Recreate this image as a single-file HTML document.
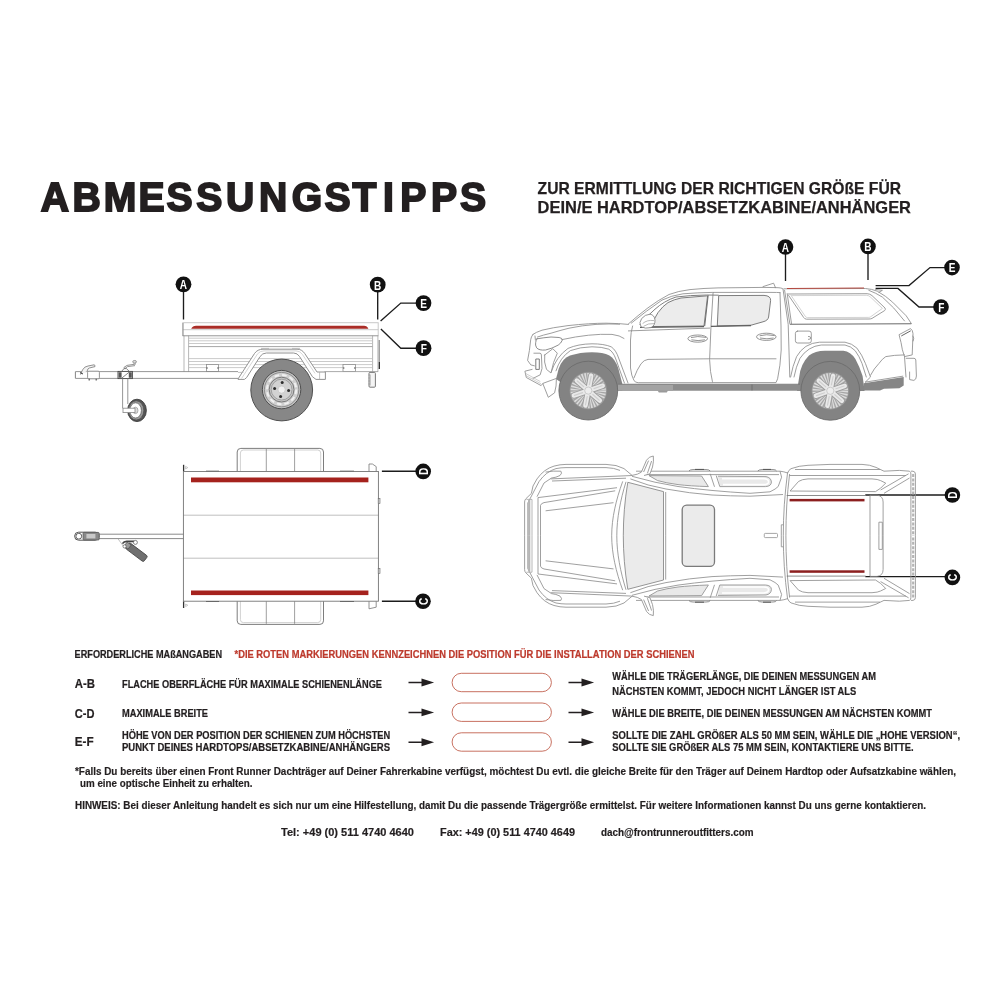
<!DOCTYPE html>
<html lang="de">
<head>
<meta charset="utf-8">
<title>Abmessungstipps</title>
<style>
html,body{margin:0;padding:0;background:#fff;}
body{width:1000px;height:1000px;overflow:hidden;position:relative;}
svg{position:absolute;left:0;top:0;display:block;will-change:transform;}
text{font-family:"Liberation Sans",sans-serif;font-weight:bold;fill:#231f20;}
.hl{font-size:41px;stroke:#231f20;stroke-width:1.9px;stroke-linejoin:miter;}
.sub{font-size:16.7px;stroke:#231f20;stroke-width:0.25px;}
.cap{font-size:10.6px;stroke:#231f20;stroke-width:.22px;}
.lbl{font-size:12.4px;stroke:#231f20;stroke-width:.2px;}
.red{fill:#bd3a2d;stroke:#bd3a2d;}
.fn{font-size:10.6px;stroke:#231f20;stroke-width:.18px;}
.ln{fill:none;stroke:#6b6b6b;stroke-width:0.9;stroke-linecap:round;stroke-linejoin:round;}
.lt{fill:none;stroke:#9a9a9a;stroke-width:0.7;stroke-linecap:round;stroke-linejoin:round;}
.dk{fill:none;stroke:#3a3a3a;stroke-width:1;stroke-linecap:round;stroke-linejoin:round;}
.ld{fill:none;stroke:#1c1c1c;stroke-width:1.35;}
.pill{fill:#fff;stroke:#c2614f;stroke-width:0.9;}
.dot{fill:#111;}
.dl{font-size:13.6px;fill:#fff;text-anchor:middle;}
</style>
</head>
<body>
<svg width="1000" height="1000" viewBox="0 0 1000 1000">
<rect x="0" y="0" width="1000" height="1000" fill="#ffffff"/>

<!-- ===== HEADLINE ===== -->
<g id="head">
<text class="hl" transform="translate(0 211.2) scale(0.955 1)" x="42.8 75.9 108.6 145.0 174.4 205.6 236.7 271.1 305.4 339.9 369.1 401.0 419.2 451.2 481.8" y="0">ABMESSUNGSTIPPS</text>
<text class="sub" x="537.6" y="193.6" textLength="363.4" lengthAdjust="spacingAndGlyphs">ZUR ERMITTLUNG DER RICHTIGEN GRÖßE FÜR</text>
<text class="sub" x="537.6" y="212.6" textLength="373.4" lengthAdjust="spacingAndGlyphs">DEIN/E HARDTOP/ABSETZKABINE/ANHÄNGER</text>
</g>

<g id="trailer-side">
<!-- leaders -->
<path class="ld" d="M183.5 290V319.5M377.7 290V319.5M423 303.1H400.8L380.6 320.9M423 348.2H400.8L380.9 328.9"/>
<circle class="dot" cx="183.5" cy="284.3" r="7.9"/><text class="dl" transform="translate(183.5 289.1) scale(.74 1)">A</text>
<circle class="dot" cx="377.7" cy="284.7" r="7.9"/><text class="dl" transform="translate(377.7 289.5) scale(.74 1)">B</text>
<circle class="dot" cx="423.5" cy="303.1" r="7.9"/><text class="dl" transform="translate(423.7 307.9) scale(.74 1)">E</text>
<circle class="dot" cx="423.5" cy="348.2" r="7.9"/><text class="dl" transform="translate(423.9 353.0) scale(.74 1)">F</text>
<!-- top rail -->
<rect x="182.8" y="322.7" width="195.4" height="13" fill="#fff" stroke="#c9c9c9" stroke-width="1"/>
<path d="M182.8 335.8H378.2" stroke="#a8a8a8" stroke-width="1.1" fill="none"/>
<path d="M182.8 329.7H378.2" stroke="#bdbdbd" stroke-width="0.8" fill="none"/>
<path d="M191.2 328.7 Q192.6 325.8 196 325.8 H364 Q367.2 325.8 368.4 328.7 Z" fill="#aa2d27"/>
<path d="M183 323V336" stroke="#8a8a8a" stroke-width="0.9" fill="none"/>
<!-- body -->
<path class="lt" d="M184 336V371.6M188.6 336V371.6M372.6 336V371.6M377.9 336V371.6"/>
<path d="M188.6 338.2H372.6M188.6 340.8H372.6M188.6 343.5H372.6M188.6 358.6H372.6M188.6 361.5H372.6M188.6 364.6H372.6M188.6 367.6H372.6" stroke="#bcbcbc" stroke-width="0.8" fill="none"/>
<path d="M188.6 346.6H372.6" stroke="#a6a6a6" stroke-width="1" fill="none"/>
<path d="M379.2 340V369" stroke="#666" stroke-width="0.9" fill="none"/>
<path d="M379.4 362V369" stroke="#333" stroke-width="1.2" fill="none"/>
<!-- reflector boxes -->
<rect x="206.4" y="364.4" width="12.2" height="7.2" fill="#fff" stroke="#8c8c8c" stroke-width="0.8"/>
<path d="M206.4 368h1.4M218.6 368h-1.4" stroke="#444" stroke-width="1"/>
<rect x="343" y="364.4" width="12.4" height="7.2" fill="#fff" stroke="#8c8c8c" stroke-width="0.8"/>
<path d="M343 368h1.4M355.4 368h-1.4" stroke="#444" stroke-width="1"/>
<!-- body bottom & drawbar -->
<path d="M324.5 371.6H378" stroke="#a0a0a0" stroke-width="0.9" fill="none"/>
<path d="M75.5 371.6H238M75.5 378.4H238" stroke="#8a8a8a" stroke-width="0.9" fill="none"/>
<!-- tail light -->
<rect x="369" y="372.4" width="6.4" height="14.8" rx="1" fill="#f4f4f4" stroke="#6a6a6a" stroke-width="0.9"/>
<path d="M370.2 374.5v11" stroke="#999" stroke-width="0.7"/>
<path d="M368.6 375h1M368.6 378h1M368.6 381h1M368.6 384h1" stroke="#777" stroke-width="0.6"/>
<!-- fender -->
<path d="M238 379 L254.5 353.5 Q257.5 349.2 263 349.2 H297 Q302 349.2 304.8 353.6 L317 372 H325.4 V379.4 H316 L312.5 376.8 L299.6 356.6 Q297.4 353 293.6 353 H266.4 Q262.4 353 260 356.6 L246.6 377.6 L244.4 379.4 H238 Z" fill="#fff" stroke="#929292" stroke-width="1" stroke-linejoin="round"/>
<path d="M241.6 378.4 L257.6 353.8 Q260 350.9 264 350.9 H296 Q300 350.9 302.4 354.4 L315 373.4" fill="none" stroke="#c4c4c4" stroke-width="0.7"/>
<path d="M261 348.4h8M292 348.4h8" stroke="#aaa" stroke-width="0.7"/>
<path d="M238 372.4h5.4M319.6 379.4v-7.4" stroke="#aaa" stroke-width="0.7" fill="none"/>
<!-- wheel -->
<circle cx="281.7" cy="390" r="30.9" fill="#878787" stroke="#505050" stroke-width="1"/>
<circle cx="281.6" cy="389.6" r="19.2" fill="#c2c2c2" stroke="#4f4f4f" stroke-width="1"/>
<circle cx="281.6" cy="389.6" r="17.2" fill="#cfcfcf" stroke="#7d7d7d" stroke-width="0.8"/>
<circle cx="281.6" cy="389.6" r="14.6" fill="none" stroke="#f0f0f0" stroke-width="2" stroke-dasharray="4.6 3.05"/>
<circle cx="281.6" cy="389.6" r="12.4" fill="#c6c6c6" stroke="#6f6f6f" stroke-width="0.9"/>
<circle cx="281.6" cy="389.6" r="10.4" fill="#d2d2d2" stroke="#8c8c8c" stroke-width="0.7"/>
<circle cx="281.6" cy="389.6" r="3.6" fill="#f0f0f0" stroke="#bdbdbd" stroke-width="0.6"/>
<circle cx="282.2" cy="382.6" r="1.5" fill="#2e2e2e"/><circle cx="288.6" cy="390.6" r="1.5" fill="#2e2e2e"/><circle cx="280.6" cy="396.4" r="1.5" fill="#2e2e2e"/><circle cx="274.6" cy="388.6" r="1.5" fill="#2e2e2e"/>
<!-- coupling -->
<path d="M75.4 371.6V378.4" stroke="#777" stroke-width="0.9"/>
<rect x="87.6" y="371.2" width="11.8" height="7.6" rx="1.2" fill="#fff" stroke="#7a7a7a" stroke-width="0.8"/>
<path d="M80.4 374.6 L82.6 369.8 Q84.4 366.4 88 366 L94 364.8 Q95.4 365 95 366.6 L89.4 368 Q87.6 368.4 87.2 371" fill="#f2f2f2" stroke="#777" stroke-width="0.8" stroke-linejoin="round"/>
<path d="M80.2 372.6l2.6 1.4" stroke="#444" stroke-width="1.1"/>
<path d="M89.2 378.8v1.6M96.2 378.8v1.6" stroke="#555" stroke-width="1.2"/>
<!-- jockey wheel -->
<rect x="118" y="371.4" width="14.4" height="7.2" fill="#fff" stroke="#444" stroke-width="0.9"/>
<path d="M118.6 372.2h3v5.6h-3zM128.8 372.2h3v5.6h-3z" fill="#555"/>
<path d="M121.4 371.6 L124 368.6 H126.4 L129.6 371.6 M121.4 378.4 L129.6 371.8" fill="none" stroke="#666" stroke-width="0.8"/>
<path d="M124 368.6 V367.4 L127 365.4 L134.8 364.2 M124.8 368.6 L127.6 366.6 L135 365.6" fill="none" stroke="#777" stroke-width="0.8"/>
<ellipse cx="134.6" cy="361.8" rx="1.9" ry="1.3" fill="#ddd" stroke="#777" stroke-width="0.7"/>
<path d="M134 363v1.6M135.4 363v1.8" stroke="#888" stroke-width="0.6"/>
<path d="M122.6 378.6V408.4M127.8 378.6V404" stroke="#8a8a8a" stroke-width="0.9" fill="none"/>
<ellipse cx="137" cy="410.4" rx="9.4" ry="11.2" fill="#555" stroke="#333" stroke-width="0.8"/>
<ellipse cx="136.2" cy="410.4" rx="7.6" ry="9.6" fill="#9a9a9a" stroke="#444" stroke-width="0.6"/>
<ellipse cx="135.6" cy="410.4" rx="5.8" ry="7.6" fill="#fff" stroke="#555" stroke-width="0.7"/>
<ellipse cx="135.4" cy="410.4" rx="2.6" ry="3.2" fill="#ddd" stroke="#888" stroke-width="0.6"/>
<rect x="123" y="408.2" width="12" height="4.4" fill="#fff" stroke="#888" stroke-width="0.8"/>
</g>
<g id="trailer-top">
<path class="ld" d="M381.9 471.2H416M381.9 601.2H416"/>
<circle class="dot" cx="423.2" cy="471.4" r="7.8"/>
<circle class="dot" cx="423" cy="601.3" r="7.8"/>
<text class="dl" transform="translate(428.1 471.4) rotate(-90) scale(.74 1)" x="0" y="0">D</text>
<text class="dl" transform="translate(427.9 601.3) rotate(-90) scale(.74 1)" x="0" y="0">C</text>
<!-- fenders -->
<path d="M237.2 471.5V452Q237.2 448.4 240.8 448.4H319.9Q323.5 448.4 323.5 452V471.5" fill="#fff" stroke="#6e6e6e" stroke-width="0.9"/>
<path d="M240.4 471.5V453Q240.4 450 243.4 450H317.7Q320.7 450 320.7 453V471.5" fill="none" stroke="#bdbdbd" stroke-width="0.7"/>
<path d="M266.3 449V471.5M294.6 449V471.5" stroke="#777" stroke-width="0.7"/>
<path d="M237.2 601.2V620.8Q237.2 624.4 240.8 624.4H319.9Q323.5 624.4 323.5 620.8V601.2" fill="#fff" stroke="#6e6e6e" stroke-width="0.9"/>
<path d="M240.4 601.2V619.6Q240.4 622.6 243.4 622.6H317.7Q320.7 622.6 320.7 619.6V601.2" fill="none" stroke="#bdbdbd" stroke-width="0.7"/>
<path d="M266.3 601.2V623.8M294.6 601.2V623.8" stroke="#777" stroke-width="0.7"/>
<!-- posts -->
<path d="M183.6 471.5V464.8" stroke="#333" stroke-width="1.3"/>
<path d="M185.6 466.4l2.2 1.2-2.2 1.4z" fill="none" stroke="#999" stroke-width="0.5"/>
<path d="M183.6 601.2V608" stroke="#333" stroke-width="1.3"/>
<path d="M185.6 604l2.2 1.2-2.2 1.4z" fill="none" stroke="#999" stroke-width="0.5"/>
<path d="M369 471.5V464H372.4L376.2 466.6V471.5" fill="#fff" stroke="#777" stroke-width="0.8"/>
<path d="M369 601.2V608.8L376.2 607.2V601.2" fill="#fff" stroke="#777" stroke-width="0.8"/>
<!-- body -->
<rect x="183.4" y="471.5" width="195" height="129.7" fill="#fff" stroke="none"/>
<path d="M206 471.2h13M206 601.5h13M340 471.2h14M340 601.5h14" stroke="#555" stroke-width="1"/>
<path d="M183.4 515.2H378.4M183.4 558.2H378.4" stroke="#b9b9b9" stroke-width="0.9"/>
<rect x="183.4" y="471.5" width="195" height="129.7" fill="none" stroke="#747474" stroke-width="0.9"/>
<rect x="191" y="477.5" width="177.4" height="4.8" fill="#a5221d"/>
<rect x="191" y="590.5" width="177.4" height="4.6" fill="#a5221d"/>
<rect x="378.2" y="498.6" width="1.8" height="5" fill="#ddd" stroke="#666" stroke-width="0.6"/>
<rect x="378.2" y="568.4" width="1.8" height="5" fill="#ddd" stroke="#666" stroke-width="0.6"/>
<!-- drawbar -->
<path d="M98.4 534.2H183.4M98.4 538.6H183.4" stroke="#7d7d7d" stroke-width="0.9"/>
<rect x="74.6" y="532.2" width="24.6" height="8" rx="4" fill="#fff" stroke="#555" stroke-width="1"/>
<rect x="83" y="532.4" width="16.2" height="7.6" rx="1" fill="#8a8a8a" stroke="#555" stroke-width="0.7"/>
<rect x="86.4" y="534" width="9" height="4.4" fill="#c9c9c9"/>
<circle cx="78.8" cy="536.2" r="2.9" fill="#fff" stroke="#555" stroke-width="0.9"/>
<!-- jockey wheel top -->
<path d="M118 538.8l5.4 7.4" stroke="#999" stroke-width="0.6"/>
<g transform="translate(136.4 552.2) rotate(37)">
<rect x="-11.5" y="-3.6" width="23" height="7.2" rx="1.6" fill="#707070" stroke="#444" stroke-width="0.8"/>
<rect x="-13.5" y="-2.6" width="5" height="5.2" fill="#999" stroke="#444" stroke-width="0.6"/>
</g>
<path d="M122.4 543.6Q124 541 127.6 541.4H134" fill="none" stroke="#444" stroke-width="1.6"/>
<circle cx="135.4" cy="542.4" r="2" fill="#fff" stroke="#555" stroke-width="0.7"/>
<circle cx="124.6" cy="546.4" r="1.6" fill="#fff" stroke="#555" stroke-width="0.7"/>
</g>
<g id="truck-side">
<!-- leaders & dots -->
<path class="ld" d="M785.5 253V281M868 253V280M945 267.6H930L909 285.6H875.6M934 307H919L898 288.4H875.6"/>
<circle class="dot" cx="785.5" cy="247" r="7.8"/><text class="dl" transform="translate(785.5 251.8) scale(.74 1)">A</text>
<circle class="dot" cx="868" cy="246.4" r="7.8"/><text class="dl" transform="translate(868 251.2) scale(.74 1)">B</text>
<circle class="dot" cx="952" cy="267.6" r="7.8"/><text class="dl" transform="translate(952.2 272.4) scale(.74 1)">E</text>
<circle class="dot" cx="941" cy="307" r="7.8"/><text class="dl" transform="translate(941.3 311.8) scale(.74 1)">F</text>

<!-- wheel wells (dark) -->
<path d="M556 379 L558.6 369 Q562 358.6 570 355.6 Q580 352.2 592 352.2 Q603 352.2 609.4 355.4 Q615 358.6 618.2 368 L622.4 384 V391 H600 L566 386Z" fill="#848484"/>
<path d="M797 391 L799.2 377 Q800.6 364 809 355.6 Q815 350.8 825 350.7 H843.4 Q850.6 351.4 855.4 359 Q859.6 366.6 862.6 376 L864.6 391Z" fill="#848484"/>
<!-- rocker / underbody dark -->
<path d="M618 384.2H800V390.8H618Z" fill="#8c8c8c"/>
<path d="M618 384.2H673V390.8H618Z" fill="#a3a3a3"/>
<path d="M618 384.2H800" stroke="#6e6e6e" stroke-width="0.7" fill="none"/>
<path d="M657.6 390.6h10.4l-1.2 1.8h-8z" fill="#9a9a9a"/>
<path d="M752 384.5v6" stroke="#666" stroke-width="0.7"/>
<path d="M863.7 383.2 L903.7 377 V385.6 L899.4 388.2 L884 388.8 L880 390.6 H863.7Z" fill="#868686"/>

<!-- ===== body outline ===== -->
<g class="ln" style="stroke:#8c8c8c;stroke-width:.85">
<!-- hood -->
<path d="M533 334.3 Q536 332.2 542 330.2 Q552 327.6 568 325.6 Q590 323.2 606 323.2 Q620 323.4 628.4 324.4"/>
<path d="M537.5 337 Q543 335 551 333.2 Q560 330.4 569 328.2 Q582 325.4 596 324.4 Q610 323.6 619.6 324.2"/>
<!-- front face -->
<path d="M533 334.3 Q531 337 530.7 339.7 L529.4 350.5 L527.6 360.4 L530.8 364.9 L534.4 365.8"/>
<path d="M535 336 L535.4 340"/>
<!-- headlight -->
<path d="M537 338.8 Q544 337.6 551 337 L559.1 337.5 Q562.6 338 562.3 340.2 Q561 343.4 558.2 345.1 Q552 348.6 545.6 350 Q539 350.6 536.6 347.8 Q535 345 535.7 342.4 Q536 340 537 338.8Z" style="stroke:#7a7a7a"/>
<!-- grill side -->
<path d="M533.9 353.2 H540 Q541.4 353.4 541.4 355 L542 368.5 L540.2 374.8 L533 378.4"/>
<path d="M536.2 359 H539.3 V369.4 H536.2Z" style="stroke:#666"/>
<path d="M544.7 355 L552.8 348.7 L557.3 353.2 Q553 362 551 373 L546.5 369.4 Q543.6 362 544.7 355Z"/>
<!-- bumper -->
<path d="M532.1 369.4 L524.9 371.2 L526.3 377.5 L541.1 385.6 L542.9 383.4 L556.4 378.4"/>
<path d="M525.6 373.4 L540 381.4 M526 375.6 L540.6 383.6" style="stroke:#b0b0b0;stroke-width:.6"/>
<path d="M542.9 383.8 L548.3 397.3 L554.6 392.8 Q556.6 386 556.4 379.3"/>
<!-- fender flare front -->
<path d="M551.2 372 Q556 357 568 348.4 Q578 344 592 343.8 Q604 343.8 611.2 346.8 Q616 350 618.6 358 L628 383"/>
<path d="M556 370.8 Q560 357.6 570.4 350.6 Q580 347 592 346.8 Q602 346.8 608.8 349.2 Q613.4 352 615.8 359 L624.4 383"/>
<path d="M562 339.6 Q590 333.4 612 334.4 Q620 335.4 624 338.4"/>
<!-- roofline -->
<path d="M628.4 323.9 Q638 315.4 648 307.8 Q658 300.2 669 294.5 Q678 291 690 289.6 Q704 288.2 718 287.9 L764 287.4 L775.2 287.6"/>
<path d="M631.2 323.2 Q646 311 662 300.1 Q671 295.6 683 293.8 Q698 292.6 712.4 292.4 H770 Q778 292.4 780 292.6"/>
<path d="M763 286.6 L773.6 283.2 L775.4 287.4" />
<!-- A pillar / door front edge -->
<path d="M632.6 326 Q630.8 332 630.5 340 V368 Q631.4 376 634 380.6 Q635.6 382.6 638.2 382.7 H712"/>
<path d="M628.4 330.9 L709.6 328.1"/>
<!-- door seam B -->
<path d="M713.1 292.4 L711 326 L709.6 359.6 Q710 372 712.4 381.5"/>
<!-- rear door rear edge / cab back -->
<path d="M780 292.6 L781 326 L781.2 350 Q780.4 366 777.6 378.8 L776 382.6 H712.4"/>
<path d="M775.2 287.6 Q782 287.6 783 289 L788.2 324.3 L789.8 377"/>
<!-- crease -->
<path d="M634 377.8 Q637 369.6 641 363.8 Q644 359.8 648 359.4 L709.6 358.8 H776 "/>
</g>

<!-- windows -->
<path d="M650 326.6 L658 312.6 Q663 305.8 668 302.6 Q674 299.4 681 298 L707.6 295.8 L704 326 Z" fill="#ececec" stroke="#6f6f6f" stroke-width="0.9" stroke-linejoin="round"/>
<path d="M639.6 325 Q647 316 655 309.2 Q664 301 676 297 Q690 295.2 706.8 295 L718.7 295.2" fill="none" stroke="#808080" stroke-width="1"/>
<path d="M708.2 295.2 L704.7 326.2" fill="none" stroke="#6f6f6f" stroke-width="1"/>
<path d="M718.7 295.6 L764 295.4 Q771 295.8 770.6 300.6 L768.6 317 Q768 320.6 763 321.8 L751 325.2 L717.3 326 Z" fill="#ececec" stroke="#6f6f6f" stroke-width="0.9" stroke-linejoin="round"/>
<path d="M640 327.4 L704 326.6 M711 326.4 L751 325.6" stroke="#5e5e5e" stroke-width="1.1" fill="none"/>
<!-- mirror -->
<path d="M641 326.8 Q638.6 322.6 641.6 318.6 Q645 314.4 650 314.2 Q654.4 314.8 655 320 Q655.2 325.6 651 327.6 Q645 329 641 326.8Z" fill="#fff" stroke="#7a7a7a" stroke-width="0.8"/>
<path d="M642.6 323.6 Q647 319.6 654 320.6 M643.4 326.4 Q648 323 654.6 323.6" fill="none" stroke="#9a9a9a" stroke-width="0.7"/>
<!-- handles -->
<g fill="#fff" stroke="#7a7a7a" stroke-width="0.8">
<ellipse cx="697.7" cy="338.6" rx="9.8" ry="3.6"/><path d="M691 337.6 Q697 335.6 706 337.4 M691.4 339.8 Q698 341.4 705 339.8" fill="none"/>
<ellipse cx="766.3" cy="336.8" rx="9.8" ry="3.6"/><path d="M759.6 335.8 Q766 333.8 774.6 335.6 M760 338 Q767 339.6 773.6 338" fill="none"/>
</g>

<!-- ===== canopy & bed ===== -->
<g class="ln" style="stroke:#8c8c8c;stroke-width:.85">
<path d="M783.8 288.8 L865.4 288.5 Q872 289 877.3 291.2 Q886 296 892.6 302.2 L906.2 315.8 L911.3 323.5"/>
<path d="M868.8 290.3 Q876 293 882.4 297.1 Q894 307 904.5 320.9"/>
<path d="M875.6 289.5 L882.4 290.3 L879 292.2"/>
<path d="M784.6 290.3 L789.8 323.5 M787.2 293.7 L791.5 323.5"/>
<path d="M788 294 L867.1 293.7 Q870 293.8 872 295.6 L885 308 Q886 309.4 884.6 310.6 L872 318.4 Q871 319 869 319 L806.4 319.2 Q804.6 319 803.6 317.4 L788.6 295.4"/>
<path d="M791 295.6 L866.4 295.3 Q868.8 295.4 870.4 297 L882.4 308.4 L870.6 316.8 Q869.8 317.4 868.4 317.4 L807.4 317.6 Q806 317.4 805.2 316.2 L791.6 296.2" style="stroke:#b5b5b5;stroke-width:.6"/>
<!-- bed side -->
<rect x="795.4" y="331.1" width="15.9" height="11.9" rx="2.2"/>
<path d="M808.4 336.4 q2.4 0 2.4 1.6 q0 1.4 -2.4 1.4"/>
<!-- rear flare -->
<path d="M790.6 377 Q792.6 366 796.6 356.6 Q800.4 350 805.9 346.4 Q812 342.6 819.5 342.2 H845 Q852 343.4 856.9 348.1 Q862 354.6 865.4 363.4 L870.5 377 L865.4 382.1"/>
<path d="M794 377 Q796 366.6 800 358.3 Q803.6 352.6 809.3 349 Q814.6 345.6 821.2 345 H845 Q851 346.2 855.2 350.7 Q859.4 356.4 862 363.4 L866.3 377"/>
<!-- lower bed -->
<path d="M870.5 375.3 Q874 368.4 879 363.4 Q882.4 358.6 885.8 356.6 Q894 355 904.5 354.9"/>
<path d="M865.4 382.1 L902.8 376.2"/>
<!-- tail light -->
<path d="M899.4 334.5 L910.5 328.6 Q912.8 330 913 333.7 L912.2 354.9 L904.5 356.6 Q902 350 901.1 343 Z"/>
<path d="M901.6 335.8 L910.4 331" style="stroke:#666;stroke-width:1"/>
<path d="M913 336 q1.6 2 0.2 5"/>
<!-- rear bumper -->
<path d="M906.2 358.3 H914 Q915.6 358.4 915.8 360 L916.4 376 Q916.4 379.6 913.9 380.4 L909.6 379.6 L909.6 372"/>
<path d="M904.5 356.6 L906 377"/>
</g>
<path d="M789.8 324.3 L911.3 323.7" stroke="#6a6a6a" stroke-width="1.1" fill="none"/>
<path d="M787 288.5 L864 288" stroke="#b54a41" stroke-width="1.2" fill="none"/>

<!-- wheels -->
<g id="wf">
<circle cx="588.3" cy="390.6" r="29.4" fill="#838383" stroke="#6c6c6c" stroke-width="0.9"/>
<circle cx="588.3" cy="390.6" r="18.6" fill="#a6a6a6" stroke="#8a8a8a" stroke-width="0.6"/>
<circle cx="588.3" cy="390.6" r="11.9" fill="none" stroke="#dcdcdc" stroke-width="11.6" stroke-dasharray="1.15 1.05"/>
<g stroke="#9c9c9c" stroke-width="6.4" stroke-linecap="round"><path d="M589.0 387.2L591.2 375.7"/><path d="M591.6 389.5L602.7 385.7"/><path d="M590.9 392.9L599.8 400.6"/><path d="M587.6 394.0L585.4 405.5"/><path d="M585.0 391.7L573.9 395.5"/><path d="M585.7 388.3L576.8 380.6"/></g>
<g stroke="#e9e9e9" stroke-width="4.6" stroke-linecap="round"><path d="M589.0 387.2L591.2 375.7"/><path d="M591.6 389.5L602.7 385.7"/><path d="M590.9 392.9L599.8 400.6"/><path d="M587.6 394.0L585.4 405.5"/><path d="M585.0 391.7L573.9 395.5"/><path d="M585.7 388.3L576.8 380.6"/></g>
<g stroke="#cfcfcf" stroke-width="1.2" stroke-linecap="round"><path d="M589.4 384.7L591.1 376.3"/><path d="M594.0 388.6L602.1 385.8"/><path d="M592.8 394.5L599.3 400.2"/><path d="M587.2 396.5L585.5 404.9"/><path d="M582.6 392.6L574.5 395.4"/><path d="M583.8 386.7L577.3 381.0"/></g>
<circle cx="588.3" cy="390.6" r="3.6" fill="#ededed" stroke="#b5b5b5" stroke-width="0.6"/>
</g>
<use href="#wf" x="242" y="0.2"/>
</g>
<g id="truck-top">
<path class="ld" d="M865.3 495H945M865.3 576.6H945"/>
<circle class="dot" cx="952.4" cy="495" r="7.8"/>
<circle class="dot" cx="952.4" cy="577.4" r="7.8"/>
<text class="dl" transform="translate(957.3 495) rotate(-90) scale(.74 1)">D</text>
<text class="dl" transform="translate(957.3 577.4) rotate(-90) scale(.74 1)">C</text>
<defs>
<g id="tth" fill="none" stroke="#8f8f8f" stroke-width="0.85" stroke-linecap="butt" stroke-linejoin="round">
<!-- side glass fills (top half) -->
<path d="M649 475.6 L701.6 476 L708.4 486.6 Q690 486 678 484.6 Q666 483 657.6 480.6 Z" fill="#e9e9e9" stroke="none"/>
<path d="M717.9 476.2 L766 476.6 Q771 477.4 771.4 482 Q771.4 486.2 765.5 486.6 H719.8 Z" fill="#e9e9e9" stroke="none"/>
<!-- front bumper & fender outer -->
<path d="M524.6 535.8 V502 Q524.6 500 526 498.6 L531.4 493.4 L533 486 L537 478.9 Q544 469 554 466.1 Q560 464.4 566 464.4 H606 Q617 464.6 624 468.6 L632.2 475.5"/>
<path d="M527.8 535.8 V503 L539 481.6 Q546 471.6 556 468.6 Q561 467.6 566 467.6 H606 Q614 467.8 620 470.4"/>
<!-- horn shape -->
<path d="M545.6 472.1 Q553 470.6 560.9 471.2 Q562.6 473 560 475.5 Q556 477.6 551.5 478 L544 483 L537 496.7"/>
<!-- fender crease -->
<path d="M550.7 478.9 L632.2 475.5 M552 481 L626 478.2" />
<!-- hood -->
<path d="M538 535.8 V497.6 L617 487.7"/>
<path d="M540.5 535.8 V505.4 Q541 503.4 544 502.6 L615.2 490.8"/>
<path d="M545.6 510.8 L613.5 502.7"/>
<path d="M526.4 499.4 H532 V535.8" style="stroke:#aaa"/>
<path d="M529.2 500V535.8" style="stroke:#b5b5b5;stroke-width:2.2"/>
<!-- cowl curves -->
<path d="M622.7 481.4 C616 500 611.7 518 611.7 535.8"/>
<path d="M626 481.8 C620.4 500 616.8 518 616.8 535.8"/>
<!-- windshield glass -->
<path d="M665.7 492 V535.8"/>
<!-- A pillar/roof rails -->
<path d="M630.4 478.9 Q648 486 666 489 Q690 493.4 712 495 Q730 496 750 496.2 L783 494.5"/>
<path d="M632 476.3 Q655 483 678 486.5 Q710 491 750 493.3 L770 491.8 Q776 489 778.2 486.5 L781.6 477.2 L780 471.2"/>
<!-- body side -->
<path d="M636 471.2 H780 Q784 471.6 787.6 473"/>
<path d="M645 474.6 H779"/>
<path d="M689 471 Q690 469.6 693 469.6 H706 Q709.4 469.6 710.2 471" style="stroke:#777"/>
<path d="M757.8 471 Q759 469.6 762 469.6 H773 Q776 469.6 776.5 471" style="stroke:#777"/>
<path d="M695 469.4h9M763 469.4h8" style="stroke:#555;stroke-width:1"/>
<!-- window outlines top view -->
<path d="M649 475.6 L701.6 476 L708.4 486.6 Q690 486 678 484.6 Q666 483 657.6 480.6 Z"/>
<path d="M710.2 473.8 L714.5 486.8 M716.2 475.5 L719.8 486.6"/>
<path d="M717.9 476.2 L766 476.6 Q771 477.4 771.4 482 Q771.4 486.2 765.5 486.6 H719.8"/>
<path d="M722 478.6 H764 Q768.6 479 768.6 482 Q768.4 484.4 764 484.6 H723" style="stroke:#fff;stroke-width:1.6"/>
<!-- mirror -->
<path d="M632 475.4 Q638 474.6 641.4 472.1 L646.5 460.2 Q649 456.4 653.3 456 Q654 461 652.5 467 L650 473.8 L644 475.5" fill="#fff"/>
<path d="M643.6 472 L648.6 460.6 M647.4 473.4 L651.6 461"/>
<!-- cab rear -->
<path d="M787.6 472.4 C784.6 495 783.3 515 783.3 535.8"/>
<path d="M789.6 474 C787 495 785.9 515 785.9 535.8"/>
<path d="M783.3 524.8 H781.3 V535.8"/>
<!-- canopy -->
<path d="M787.6 473 Q788.6 470 791 468.7 Q799 465.6 808 465.3 L830 464.4 H862 Q870 464.6 876 467.4 L884 471.2 L899.3 470.4 L909.5 471.2 Q910.9 472 910.9 474 V535.8"/>
<path d="M795 469.5 H880"/>
<path d="M789.3 475.5 H906"/>
<path d="M790.1 491 L798.6 481.4 Q802 479.2 808 478.9 H872 Q878 479.2 880.6 480.6 L885.7 483.1 L880.6 488.2 L875.5 491.6 Z"/>
<path d="M880.6 490 L908.6 473.8 M884 493.3 L909.5 478"/>
<path d="M786.7 495.5 H865.7" style="stroke:#777"/>
<path d="M870 495.2 V535.8"/>
<path d="M870 495.2 H877.2 Q883.1 496 883.1 502 V535.8"/>
<path d="M878.9 535.8 V522.2 H882.3 V535.8"/>
<!-- tailgate -->
<path d="M910.9 471.2 H913 Q915.4 471.6 915.4 474 V535.8"/>
<path d="M913.2 474 V535.8" style="stroke:#b4b4b4;stroke-width:2.2;stroke-dasharray:3 1.4;stroke-linecap:butt"/>
</g>
</defs>
<use href="#tth"/>
<use href="#tth" transform="translate(0 1071.6) scale(1 -1)"/>
<!-- centre details -->
<path d="M627.8 482.3 L663.5 491.6 V580 L627.8 589.3 C624.6 570 623.3 552 623.3 535.8 C623.3 519 624.6 501 627.8 482.3Z" fill="#ebebeb" stroke="#7c7c7c" stroke-width="0.8" stroke-linejoin="round"/>
<rect x="682.2" y="505.2" width="32.3" height="61.2" rx="4.5" fill="#ebebeb" stroke="#7a7a7a" stroke-width="1.3"/>
<rect x="764.3" y="533.4" width="13.2" height="4.2" rx="1" fill="#fff" stroke="#8f8f8f" stroke-width="0.8"/>
<rect x="789.6" y="498.9" width="74.9" height="2.5" fill="#8c1f1f"/>
<rect x="789.6" y="570.3" width="74.9" height="2.5" fill="#8c1f1f"/>
</g>

<!-- ===== TABLE ===== -->
<g id="table">
<text class="cap" x="74.6" y="658.3" textLength="147.4" lengthAdjust="spacingAndGlyphs">ERFORDERLICHE MAßANGABEN</text>
<text class="cap red" x="234.5" y="658.3" textLength="460" lengthAdjust="spacingAndGlyphs">*DIE ROTEN MARKIERUNGEN KENNZEICHNEN DIE POSITION FÜR DIE INSTALLATION DER SCHIENEN</text>

<text class="lbl" x="74.8" y="688" textLength="20.2" lengthAdjust="spacingAndGlyphs">A-B</text>
<text class="cap" x="122" y="687.5" textLength="260" lengthAdjust="spacingAndGlyphs">FLACHE OBERFLÄCHE FÜR MAXIMALE SCHIENENLÄNGE</text>
<text class="lbl" x="74.8" y="717.8" textLength="19.7" lengthAdjust="spacingAndGlyphs">C-D</text>
<text class="cap" x="122" y="717" textLength="86" lengthAdjust="spacingAndGlyphs">MAXIMALE BREITE</text>
<text class="lbl" x="74.8" y="745.8" textLength="18.9" lengthAdjust="spacingAndGlyphs">E-F</text>
<text class="cap" x="122" y="738.8" textLength="268.2" lengthAdjust="spacingAndGlyphs">HÖHE VON DER POSITION DER SCHIENEN ZUM HÖCHSTEN</text>
<text class="cap" x="122" y="751.2" textLength="268" lengthAdjust="spacingAndGlyphs">PUNKT DEINES HARDTOPS/ABSETZKABINE/ANHÄNGERS</text>

<g id="arrows" fill="#231f20">
<path d="M408.5 681.75h13v-3.2l12.6 3.95-12.6 3.95v-3.2h-13z"/>
<path d="M408.5 711.65h13v-3.2l12.6 3.95-12.6 3.95v-3.2h-13z"/>
<path d="M408.5 741.45h13v-3.2l12.6 3.95-12.6 3.95v-3.2h-13z"/>
<path d="M568.5 681.75h13v-3.2l12.6 3.95-12.6 3.95v-3.2h-13z"/>
<path d="M568.5 711.65h13v-3.2l12.6 3.95-12.6 3.95v-3.2h-13z"/>
<path d="M568.5 741.45h13v-3.2l12.6 3.95-12.6 3.95v-3.2h-13z"/>
</g>
<rect class="pill" x="452.1" y="673.3" width="99.3" height="18.4" rx="9.2"/>
<rect class="pill" x="452.1" y="703" width="99.3" height="18.4" rx="9.2"/>
<rect class="pill" x="452.1" y="732.8" width="99.3" height="18.4" rx="9.2"/>

<text class="cap" x="612.3" y="680.1" textLength="263.7" lengthAdjust="spacingAndGlyphs">WÄHLE DIE TRÄGERLÄNGE, DIE DEINEN MESSUNGEN AM</text>
<text class="cap" x="612.3" y="694.5" textLength="244" lengthAdjust="spacingAndGlyphs">NÄCHSTEN KOMMT, JEDOCH NICHT LÄNGER IST ALS</text>
<text class="cap" x="612.3" y="716.6" textLength="319.7" lengthAdjust="spacingAndGlyphs">WÄHLE DIE BREITE, DIE DEINEN MESSUNGEN AM NÄCHSTEN KOMMT</text>
<text class="cap" x="612.3" y="738.7" textLength="347.7" lengthAdjust="spacingAndGlyphs">SOLLTE DIE ZAHL GRÖßER ALS 50 MM SEIN, WÄHLE DIE „HOHE VERSION“,</text>
<text class="cap" x="612.3" y="751.4" textLength="301.3" lengthAdjust="spacingAndGlyphs">SOLLTE SIE GRÖßER ALS 75 MM SEIN, KONTAKTIERE UNS BITTE.</text>
</g>

<!-- ===== FOOTNOTES ===== -->
<g id="foot">
<text class="fn" x="75" y="774.5" textLength="881" lengthAdjust="spacingAndGlyphs">*Falls Du bereits über einen Front Runner Dachträger auf Deiner Fahrerkabine verfügst, möchtest Du evtl. die gleiche Breite für den Träger auf Deinem Hardtop oder Aufsatzkabine wählen,</text>
<text class="fn" x="80" y="786.8" textLength="172.5" lengthAdjust="spacingAndGlyphs">um eine optische Einheit zu erhalten.</text>
<text class="fn" x="75" y="809.2" textLength="851" lengthAdjust="spacingAndGlyphs">HINWEIS: Bei dieser Anleitung handelt es sich nur um eine Hilfestellung, damit Du die passende Trägergröße ermittelst. Für weitere Informationen kannst Du uns gerne kontaktieren.</text>
<text class="fn" x="281" y="836.3" textLength="133" lengthAdjust="spacingAndGlyphs">Tel: +49 (0) 511 4740 4640</text>
<text class="fn" x="440" y="836.3" textLength="135" lengthAdjust="spacingAndGlyphs">Fax: +49 (0) 511 4740 4649</text>
<text class="fn" x="601" y="836.3" textLength="152.5" lengthAdjust="spacingAndGlyphs">dach@frontrunneroutfitters.com</text>
</g>
</svg>
</body>
</html>
